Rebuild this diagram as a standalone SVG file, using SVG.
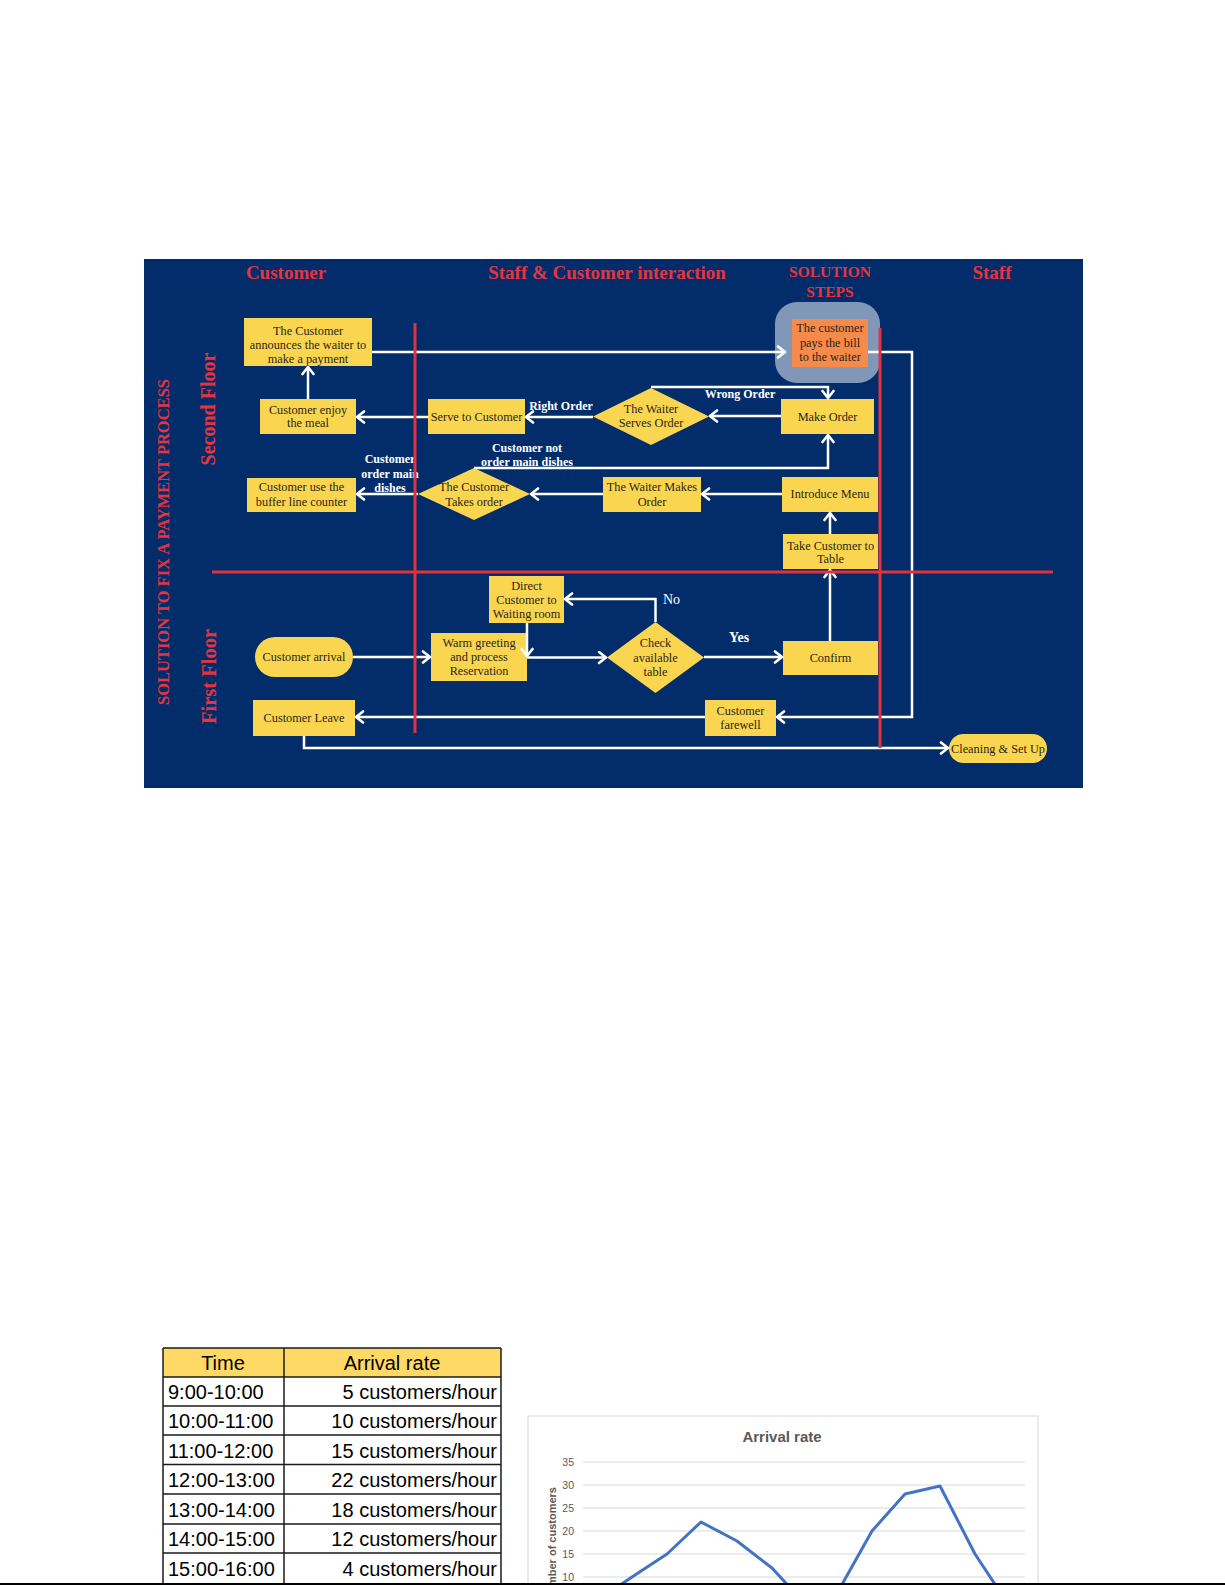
<svg xmlns="http://www.w3.org/2000/svg" width="1225" height="1585" viewBox="0 0 1225 1585">
<defs>
<marker id="ah" markerUnits="userSpaceOnUse" markerWidth="12" markerHeight="14" viewBox="0 0 12 14" refX="9" refY="7" orient="auto">
<path d="M2,1.5 L9,7 L2,12.5" fill="none" stroke="#ffffff" stroke-width="2.6" stroke-linecap="round" stroke-linejoin="round"/>
</marker>
<style>
.bg{fill:#022d6a}
.box{fill:#fad650}
.nt{font-family:"Liberation Serif",serif;font-size:12.3px;fill:#2b2516;text-anchor:middle}
.lbl{font-family:"Liberation Serif",serif;font-size:12px;font-weight:bold;fill:#ffffff;text-anchor:middle}
.hdr{font-family:"Liberation Serif",serif;font-size:19px;font-weight:bold;fill:#e5343f;text-anchor:middle}
.red{stroke:#e2323e;stroke-width:3;fill:none}
.conn{stroke:#ffffff;stroke-width:2.5;fill:none;marker-end:url(#ah)}
.tb{font-family:"Liberation Sans",sans-serif;font-size:20px;fill:#000000}
.grid{stroke:#d9d9d9;stroke-width:1}
.ax{font-family:"Liberation Sans",sans-serif;font-size:10.5px;fill:#595959;text-anchor:end}
</style>
</defs>
<rect x="0" y="0" width="1225" height="1585" fill="#ffffff"/>
<rect class="bg" x="144" y="259" width="939" height="529"/>

<g id="headers">
<text class="hdr" x="286" y="278.5">Customer</text>
<text class="hdr" x="607" y="278.5">Staff &amp; Customer interaction</text>
<text class="hdr" x="830" y="277" style="font-size:15.5px">SOLUTION</text>
<text class="hdr" x="830" y="297" style="font-size:15.5px">STEPS</text>
<text class="hdr" x="992" y="278.5">Staff</text>
<text class="hdr" transform="translate(169,542) rotate(-90)" style="font-size:16.5px">SOLUTION TO FIX A PAYMENT PROCESS</text>
<text class="hdr" transform="translate(214.5,409) rotate(-90)" style="font-size:20px">Second Floor</text>
<text class="hdr" transform="translate(216,676.5) rotate(-90)" style="font-size:20.5px">First Floor</text>
</g>

<g id="nodes">
<g id="n_announce"><rect class="box" x="244" y="318" width="128" height="48"/>
<text class="nt"><tspan x="308" y="335">The Customer</tspan><tspan x="308" y="349">announces the waiter to</tspan><tspan x="308" y="363">make a payment</tspan></text></g>
<g id="n_enjoy"><rect class="box" x="260" y="399" width="96" height="35"/>
<text class="nt"><tspan x="308" y="414">Customer enjoy</tspan><tspan x="308" y="427">the meal</tspan></text></g>
<g id="n_serve"><rect class="box" x="428" y="399" width="97" height="35"/>
<text class="nt" x="476.5" y="421">Serve to Customer</text></g>
<g id="n_waiter_serves"><polygon class="box" points="593,416.5 651,388 709,416.5 651,445"/>
<text class="nt"><tspan x="651" y="413">The Waiter</tspan><tspan x="651" y="427">Serves Order</tspan></text></g>
<g id="n_make_order"><rect class="box" x="781" y="399" width="93" height="35"/>
<text class="nt" x="827.5" y="421">Make Order</text></g>
<g id="n_pay"><rect x="775" y="302" width="105" height="81" rx="22" fill="#8097b8"/>
<rect x="792" y="319" width="76" height="48" fill="#f58a4b"/>
<text class="nt"><tspan x="830" y="332">The customer</tspan><tspan x="830" y="347">pays the bill</tspan><tspan x="830" y="361">to the waiter</tspan></text></g>
<g id="n_takes"><polygon class="box" points="418,494 474,468 530,494 474,520"/>
<text class="nt"><tspan x="474" y="491">The Customer</tspan><tspan x="474" y="506">Takes order</tspan></text></g>
<g id="n_waiter_makes"><rect class="box" x="603" y="477" width="98" height="35"/>
<text class="nt"><tspan x="652" y="491">The Waiter Makes</tspan><tspan x="652" y="506">Order</tspan></text></g>
<g id="n_intro"><rect class="box" x="782" y="477" width="96" height="35"/>
<text class="nt" x="830" y="498">Introduce Menu</text></g>
<g id="n_buffer"><rect class="box" x="247" y="478" width="109" height="34"/>
<text class="nt"><tspan x="301.5" y="491">Customer use the</tspan><tspan x="301.5" y="506">buffer line counter</tspan></text></g>
<g id="n_take_table"><rect class="box" x="783" y="534" width="95" height="35"/>
<text class="nt"><tspan x="830.5" y="550">Take Customer to</tspan><tspan x="830.5" y="563">Table</tspan></text></g>
<g id="n_direct"><rect class="box" x="489" y="576" width="75" height="47"/>
<text class="nt"><tspan x="526.5" y="590">Direct</tspan><tspan x="526.5" y="604">Customer to</tspan><tspan x="526.5" y="618">Waiting room</tspan></text></g>
<g id="n_arrival"><rect class="box" x="255" y="637" width="98" height="40" rx="20"/>
<text class="nt" x="304" y="661">Customer arrival</text></g>
<g id="n_warm"><rect class="box" x="431" y="633" width="96" height="48"/>
<text class="nt"><tspan x="479" y="647">Warm greeting</tspan><tspan x="479" y="661">and process</tspan><tspan x="479" y="675">Reservation</tspan></text></g>
<g id="n_check"><polygon class="box" points="607,657.5 655.5,622 704,657.5 655.5,693"/>
<text class="nt"><tspan x="655.5" y="647">Check</tspan><tspan x="655.5" y="662">available</tspan><tspan x="655.5" y="676">table</tspan></text></g>
<g id="n_confirm"><rect class="box" x="783" y="641" width="95" height="34"/>
<text class="nt" x="830.5" y="662">Confirm</text></g>
<g id="n_farewell"><rect class="box" x="705" y="700" width="71" height="36"/>
<text class="nt"><tspan x="740.5" y="715">Customer</tspan><tspan x="740.5" y="729">farewell</tspan></text></g>
<g id="n_leave"><rect class="box" x="253" y="700" width="102" height="36"/>
<text class="nt" x="304" y="722">Customer Leave</text></g>
<g id="n_cleaning"><rect class="box" x="949" y="734" width="98" height="29" rx="14.5"/>
<text class="nt" x="998" y="752.5">Cleaning &amp; Set Up</text></g>
</g>

<g id="connectors">
<path class="conn" d="M372,352 H785"/>
<path class="conn" d="M308,399 V367"/>
<path class="conn" d="M428,417 H357"/>
<path class="conn" d="M593,417 H526"/>
<path class="conn" d="M781,416 H710"/>
<path class="conn" d="M651,387 H828 V398"/>
<path class="conn" d="M474,468 H828 V435"/>
<path class="conn" d="M782,494 H702"/>
<path class="conn" d="M603,494 H531"/>
<path class="conn" d="M418,494 H357"/>
<path class="conn" d="M830,534 V513"/>
<path class="conn" d="M830,641 V570"/>
<path class="conn" d="M704,657 H782"/>
<path class="conn" d="M655.5,622 V599 H565"/>
<path class="conn" d="M527,623 V656"/>
<path class="conn" d="M527,657.5 H606"/>
<path class="conn" d="M353,657 H430"/>
<path class="conn" d="M868,352 H912 V717 H777"/>
<path class="conn" d="M705,717 H356"/>
<path class="conn" d="M304,736 V748 H948"/>
<text class="lbl" x="561" y="410">Right Order</text>
<text class="lbl" x="740" y="398">Wrong Order</text>
<text class="lbl"><tspan x="527" y="452">Customer not</tspan><tspan x="527" y="466">order main dishes</tspan></text>
<text class="lbl"><tspan x="390" y="463">Customer</tspan><tspan x="390" y="478">order main</tspan><tspan x="390" y="492">dishes</tspan></text>
<text class="lbl" x="739" y="642" style="font-size:14px">Yes</text>
<text class="lbl" x="663" y="604" style="font-size:14px;font-weight:normal;text-anchor:start">No</text>
</g>

<g id="lanes">
<line class="red" x1="415" y1="323" x2="415" y2="733"/>
<line class="red" x1="880" y1="328" x2="880" y2="748"/>
<line class="red" x1="212" y1="572" x2="1053" y2="572"/>
</g>

<g id="table">
<rect x="163" y="1348" width="338" height="29" fill="#ffd966"/>
<g stroke="#1a1a1a" stroke-width="1.5" fill="none">
<line x1="163" y1="1348" x2="501" y2="1348"/>
<line x1="163" y1="1377" x2="501" y2="1377"/>
<line x1="163" y1="1406" x2="501" y2="1406"/>
<line x1="163" y1="1435" x2="501" y2="1435"/>
<line x1="163" y1="1464.5" x2="501" y2="1464.5"/>
<line x1="163" y1="1494" x2="501" y2="1494"/>
<line x1="163" y1="1524" x2="501" y2="1524"/>
<line x1="163" y1="1553" x2="501" y2="1553"/>
<line x1="163" y1="1348" x2="163" y2="1585"/>
<line x1="284" y1="1348" x2="284" y2="1585"/>
<line x1="501" y1="1348" x2="501" y2="1585"/>
</g>
<text class="tb" x="223" y="1370" text-anchor="middle">Time</text>
<text class="tb" x="392" y="1370" text-anchor="middle">Arrival rate</text>
<text class="tb" x="168" y="1399">9:00-10:00</text>
<text class="tb" x="168" y="1428">10:00-11:00</text>
<text class="tb" x="168" y="1457.5">11:00-12:00</text>
<text class="tb" x="168" y="1487">12:00-13:00</text>
<text class="tb" x="168" y="1516.5">13:00-14:00</text>
<text class="tb" x="168" y="1546">14:00-15:00</text>
<text class="tb" x="168" y="1575.5">15:00-16:00</text>
<text class="tb" x="497" y="1399" text-anchor="end">5 customers/hour</text>
<text class="tb" x="497" y="1428" text-anchor="end">10 customers/hour</text>
<text class="tb" x="497" y="1457.5" text-anchor="end">15 customers/hour</text>
<text class="tb" x="497" y="1487" text-anchor="end">22 customers/hour</text>
<text class="tb" x="497" y="1516.5" text-anchor="end">18 customers/hour</text>
<text class="tb" x="497" y="1546" text-anchor="end">12 customers/hour</text>
<text class="tb" x="497" y="1575.5" text-anchor="end">4 customers/hour</text>
</g>

<g id="chart">
<rect x="528" y="1416" width="510" height="180" fill="#ffffff" stroke="#d9d9d9" stroke-width="1"/>
<text x="782" y="1442" font-family="Liberation Sans, sans-serif" font-size="15" font-weight="bold" fill="#595959" text-anchor="middle">Arrival rate</text>
<line class="grid" x1="583" y1="1462" x2="1025" y2="1462"/>
<line class="grid" x1="583" y1="1485" x2="1025" y2="1485"/>
<line class="grid" x1="583" y1="1508" x2="1025" y2="1508"/>
<line class="grid" x1="583" y1="1531" x2="1025" y2="1531"/>
<line class="grid" x1="583" y1="1554" x2="1025" y2="1554"/>
<line class="grid" x1="583" y1="1577" x2="1025" y2="1577"/>
<text class="ax" x="574" y="1466">35</text>
<text class="ax" x="574" y="1489">30</text>
<text class="ax" x="574" y="1512">25</text>
<text class="ax" x="574" y="1535">20</text>
<text class="ax" x="574" y="1558">15</text>
<text class="ax" x="574" y="1581">10</text>
<text transform="translate(556,1487) rotate(-90)" font-family="Liberation Sans, sans-serif" font-size="11" font-weight="bold" fill="#595959" text-anchor="end">Number of customers</text>
<polyline points="598,1600 632,1577 667,1554 701,1522 737,1541 772,1568 806,1605 840,1588 872,1531 905,1494 940,1486 975,1554 1010,1607" fill="none" stroke="#4472c4" stroke-width="3" stroke-linejoin="round"/>
</g>
<line x1="0" y1="1584" x2="1225" y2="1584" stroke="#000000" stroke-width="2"/>
</svg>
